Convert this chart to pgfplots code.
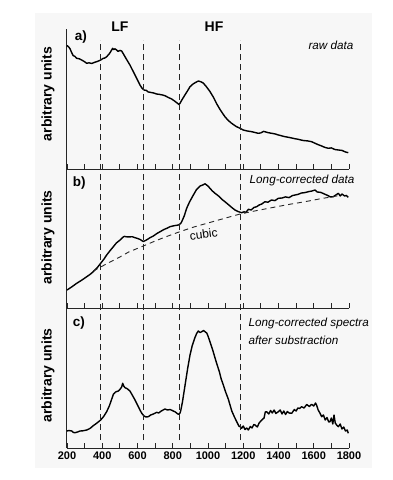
\documentclass[border=0pt]{standalone}
\usepackage{fontspec}
\setmainfont{Liberation Sans}
\usepackage{pgfplots}
\pgfplotsset{compat=1.18}
\definecolor{bgpanel}{RGB}{247,247,247}

% one vertical pixel of the reference = 1pt
\pgfplotsset{
  panel/.style={
    scale only axis,
    width=282pt,
    xmin=200, xmax=1800,
    ymin=0,
    axis x line*=bottom,
    axis y line*=left,
    axis line style={black!85, line width=1pt, -},
    ytick=\empty,
    xtick={200,400,...,1800},
    minor xtick={300,500,...,1700},
    tick align=inside,
    major tick length=5pt,
    minor tick length=5pt,
    tick style={black!85, line width=0.8pt},
    xticklabel style={font=\fontsize{11}{13}\selectfont\bfseries},
    /pgf/number format/assume math mode=true,
    /pgf/number format/1000 sep={},
    ylabel={arbitrary units},
    clip=false,
  },
  spec/.style={black, line width=1.4pt, line join=round},
}
\tikzset{
  lbl/.style={font=\fontsize{13.5}{15}\selectfont\bfseries},
  note/.style={font=\fontsize{11.7}{14}\selectfont\itshape},
}

\begin{document}
\begin{tikzpicture}
\fill[white] (0,0) rectangle (392pt,-480pt);
\fill[bgpanel] (35pt,-13pt) rectangle (372pt,-468pt);

% a) raw data
\begin{axis}[panel, at={(67pt,-169pt)}, anchor=south west,
  height=140pt, ymax=140, xticklabels=\empty,
  ylabel style={font=\fontsize{14}{16}\selectfont\bfseries,
    at={(axis description cs:-0.067,0.536)}, anchor=center}]
\addplot[spec] coordinates {
(200,123.5)(210,122)(217,120.3)(225,117)(235,113.4)(245,112.6)(255,110.7)(270,110.2)
(283,109)(297,107.6)(312,105.7)(325,106.2)(340,105.5)(355,106.6)(368,107.3)(380,108.1)
(391,109)(405,110.6)(415,111)(425,112.3)(440,115.2)(450,118)(459,120.7)(465,119.4)
(472,120.2)(482,119)(490,117.6)(500,118.6)(510,118)(520,115.1)(529,112.3)(540,109)
(557,104)(570,99.5)(586,94)(600,89)(614,84)(625,81)(637,79)(650,78.6)(660,77.1)
(671,76.7)(690,76.1)(709,75)(725,74.6)(740,74.1)(756,73.3)(775,71.5)(794,70)(810,68)
(825,66)(835,64.5)(841,65.7)(855,70)(869,74)(885,78.5)(898,82.3)(915,85)(930,86.6)
(945,88)(960,87.2)(973,86)(990,82.5)(1011,77.5)(1030,72)(1050,65)(1070,59)(1096,52.3)
(1115,48.5)(1134,45.7)(1160,42.5)(1182,40.7)(1200,39)(1220,38.1)(1245,37.4)(1265,36.6)
(1285,35.7)(1300,36.1)(1315,37.6)(1323,37.3)(1340,36.4)(1361,35.7)(1380,35.1)(1400,34)
(1437,32.3)(1460,31.6)(1490,30.4)(1512,29.7)(1540,28.5)(1565,28.1)(1588,27.3)(1610,25.5)
(1630,24)(1645,23)(1665,21.5)(1683,20.7)(1700,21.1)(1720,19.5)(1740,19)(1760,18.6)
(1780,17)(1796,16.3)
};
\node[lbl] at (axis cs:279,131.5) {a)};
\node[lbl, font=\fontsize{14}{16}\selectfont\bfseries] at (axis cs:500,142) {LF};
\node[lbl, font=\fontsize{14}{16}\selectfont\bfseries] at (axis cs:1034,142) {HF};
\node[note, anchor=east] at (axis cs:1845,124) {raw data};
\end{axis}

% b) long-corrected data
\begin{axis}[panel, at={(67pt,-308pt)}, anchor=south west,
  height=139pt, ymax=139, xticklabels=\empty,
  ylabel style={font=\fontsize{14}{16}\selectfont\bfseries,
    at={(axis description cs:-0.067,0.507)}, anchor=center}]
\addplot[spec] coordinates {
(200,18)(230,21.5)(255,24.7)(285,28)(312,31.3)(330,33.5)(349,36.3)(370,40)(391,44.7)
(410,49)(425,53)(445,57.5)(463,61.3)(480,65)(501,68)(515,70.5)(525,71.6)(538,71.2)
(555,71.1)(570,71.3)(586,70.3)(600,69.6)(615,68.5)(633,66.5)(645,67.5)(660,69)(671,70.3)
(690,72)(710,74.5)(728,76.3)(750,78.5)(770,80)(784,81.3)(800,82)(815,82.5)(832,83)
(845,84.5)(851,86.3)(865,92)(879,99.7)(895,106)(917,113)(935,118.5)(955,122)(970,123)
(983,124.2)(1000,122)(1011,119.7)(1025,117)(1040,114.7)(1060,112)(1080,108.5)(1096,106.3)
(1115,103.5)(1135,100.5)(1153,98)(1170,96.5)(1191,95.3)(1205,96.2)(1215,95.5)(1229,98.7)
(1245,98)(1260,100.5)(1276,101.3)(1290,103)(1305,104)(1323,106.3)(1340,105.8)(1360,108)
(1380,107.4)(1399,109.7)(1420,110)(1440,111.1)(1460,110.4)(1480,112.5)(1494,113)
(1510,113.6)(1530,115)(1550,115.4)(1569,116.3)(1590,117)(1607,118)(1620,116)(1640,115.6)
(1664,113.7)(1680,112.5)(1695,111)(1711,111.3)(1725,113)(1740,114.7)(1750,112)(1760,114)
(1775,112)(1785,112.6)(1796,110.7)
};
\addplot[black!85, line width=0.9pt, dash pattern=on 5pt off 4pt] coordinates {
(349,37)(391,41)(450,46.5)(500,51)(550,56)(633,62)(700,67)(750,70.5)(840,76.3)
(920,81)(1000,85)(1090,89.5)(1182,94)(1270,97.2)(1361,100.3)(1450,103.3)(1550,106.3)
(1640,109.3)(1740,112.3)
};
\node[lbl] at (axis cs:270,125) {b)};
\node[note, anchor=east] at (axis cs:1851,127.3) {Long-corrected data};
\node[font=\fontsize{12}{14}\selectfont, rotate=8] at (axis cs:975,74) {cubic};
\end{axis}

% c) spectra after subtraction
\begin{axis}[panel, at={(67pt,-448pt)}, anchor=south west,
  height=140pt, ymax=140,
  ylabel style={font=\fontsize{14}{16}\selectfont\bfseries,
    at={(axis description cs:-0.067,0.518)}, anchor=center}]
\addplot[spec] coordinates {
(200,17)(212,17.5)(227,17)(237,15.5)(245,15.3)(260,16)(274,17)(290,17.2)(312,18)
(330,19.5)(349,22.3)(370,25)(391,28)(408,31.5)(425,36.3)(440,42)(452,48)(463,53.7)
(475,56)(491,57)(500,58.5)(510,61)(516,64.7)(522,62)(529,60.3)(540,59.5)(557,57)
(570,53)(586,48)(600,43)(614,38)(625,34.5)(637,32)(648,31)(661,31.3)(675,33)(690,34)
(709,35.7)(720,35)(735,37)(756,39)(770,38)(785,38.5)(803,37)(815,36)(825,34.5)
(832,33.7)(840,34.5)(845,37)(855,46)(870,63)(885,80)(898,93)(910,102)(925,110)
(936,114.7)(945,117)(955,115.5)(964,116.3)(975,117.5)(985,116)(993,115)(1000,112)
(1011,106.3)(1025,99)(1040,90)(1049,84.7)(1065,76)(1075,69)(1087,63)(1100,56)(1115,49)
(1125,43)(1135,37)(1150,31)(1163,26.3)(1175,22)(1185,21)(1191,19.7)(1200,22)(1210,18.5)
(1220,20)(1229,18)(1240,21.5)(1250,20)(1260,23.5)(1267,23)(1280,21)(1290,25)(1305,28)
(1318,30)(1325,36)(1333,36.3)(1345,34)(1355,37.5)(1365,35)(1375,38)(1385,34.5)
(1399,36.3)(1410,38)(1420,34)(1430,37)(1440,33.5)(1450,36.5)(1460,35)(1475,34.7)
(1490,38.5)(1500,37)(1510,40)(1520,39.5)(1531,41.3)(1545,40)(1560,43.5)(1575,41.5)
(1588,43.7)(1600,42)(1610,45)(1616,43)(1625,38)(1635,35)(1645,31.3)(1655,33)(1665,28)
(1675,30.5)(1685,26)(1692,26.3)(1700,30)(1708,24)(1715,33)(1722,25)(1730,23)(1740,21.3)
(1750,24)(1760,19)(1770,21)(1780,17)(1790,18)(1796,14.7)
};
% boundaries of the LF and HF regions, through all three panels
\addplot[black!85, line width=1pt, dash pattern=on 6pt off 4pt] coordinates {(390,8)(390,408)};
\addplot[black!85, line width=1pt, dash pattern=on 6pt off 4pt] coordinates {(635,8)(635,408)};
\addplot[black!85, line width=1pt, dash pattern=on 6pt off 4pt] coordinates {(840,8)(840,408)};
\addplot[black!85, line width=1pt, dash pattern=on 6pt off 4pt] coordinates {(1185,8)(1185,408)};
\node[lbl] at (axis cs:268,125) {c)};
\node[note, anchor=west] at (axis cs:1210,124.7) {Long-corrected spectra};
\node[note, anchor=west] at (axis cs:1210,108) {after substraction};
\end{axis}
\end{tikzpicture}
\end{document}
